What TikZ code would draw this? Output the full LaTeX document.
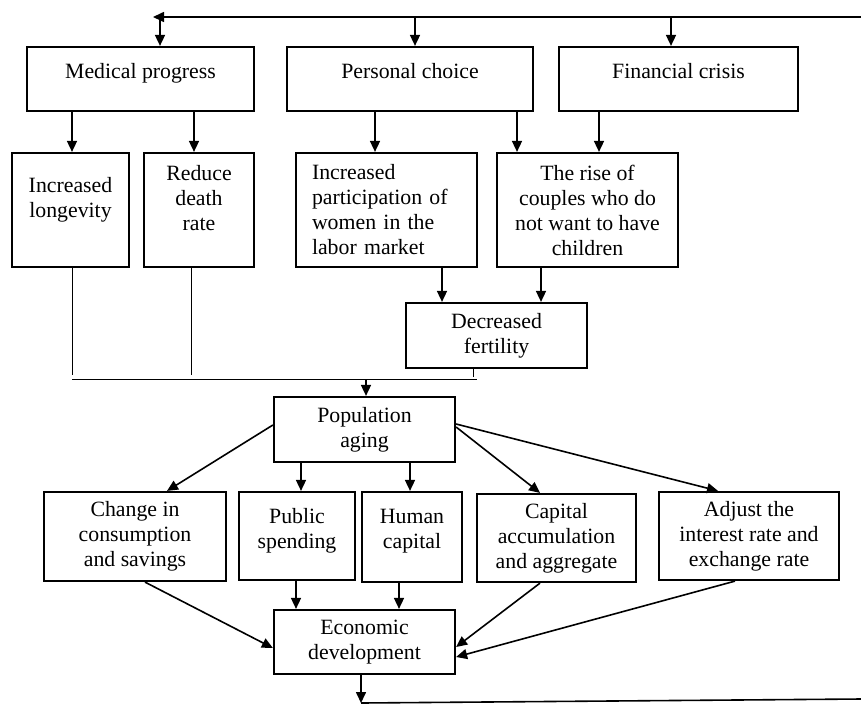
\documentclass[tikz,border=0pt]{standalone}
\usepackage{fontspec}
\setmainfont{Liberation Serif}
\usetikzlibrary{arrows.meta,positioning}

\tikzset{
	factor/.style={draw, line width=1.1pt, inner sep=2pt, align=center,
		font=\fontsize{10.9}{12.5}\selectfont},
	cause/.style={factor, minimum height=32pt, text height=8pt, text depth=9pt},
	raised/.style 2 args={text width=#1, text height=8pt, text depth=#2},
	arrowline/.style={line width=0.8pt},
	thinline/.style={line width=0.5pt}
}

\begin{document}
\begin{tikzpicture}[x=0.5pt, y=-0.5pt, >={Triangle[length=5.5pt,width=5pt]}]
	\useasboundingbox (0,0) rectangle (861,707);
	
	% Causes
	\node[cause, minimum width=113.5pt] (med) at (140.5,79) {Medical progress};
	\node[cause, minimum width=123pt] (pers) at (410,79) {Personal choice};
	\node[cause, minimum width=119.5pt] (fin) at (678.5,79) {Financial crisis};
	
	% Direct effects
	\node[factor, minimum width=58.5pt, minimum height=57pt, raised={50pt}{26pt}] (lon) at (70.5,210) {Increased\\longevity};
	\node[factor, minimum width=55pt, minimum height=57pt, raised={46pt}{38pt}] (death) at (199,210) {Reduce\\death\\rate};
	\node[factor, minimum width=90.5pt, minimum height=57pt, align=left, text width=74.5pt, inner xsep=8pt] (part) at (386.5,210) {Increased\\participation of\\women in the\\labor market};
	\node[factor, minimum width=90.5pt, minimum height=57pt] (rise) at (587.5,210) {The rise of\\couples who do\\not want to have\\children};
	\node[factor, minimum width=90.5pt, minimum height=32.5pt] (fert) at (496.5,335.5) {Decreased\\fertility};
	\node[factor, minimum width=90.5pt, minimum height=32.5pt] (aging) at (364.5,429.5) {Population\\aging};
	
	% Consequences
	\node[factor, minimum width=91pt, minimum height=44.5pt] (cons) at (135,536.5) {Change in\\consumption\\and savings};
	\node[factor, minimum width=58pt, minimum height=44pt, raised={50pt}{21pt}] (pub) at (297,536) {Public\\spending};
	\node[factor, minimum width=50pt, minimum height=45pt, raised={44pt}{22pt}] (hum) at (412,537) {Human\\capital};
	\node[factor, minimum width=79.5pt, minimum height=44pt] (cap) at (556.5,538) {Capital\\accumulation\\and aggregate};
	\node[factor, minimum width=90pt, minimum height=44pt] (adj) at (749,536) {Adjust the\\interest rate and\\exchange rate};
	\node[factor, minimum width=90.5pt, minimum height=32pt] (econ) at (364.5,642) {Economic\\development};
	
	% Feedback loop
	\coordinate (topL) at (153,17);
	\coordinate (topR) at (861,17);
	\coordinate (botL) at (361,703);
	\coordinate (botR) at (861,699);
	\draw[arrowline,->] (topR) -- (topL);
	\foreach \n/\dx in {med/9.75pt, pers/2.5pt, fin/-3.75pt}
		\draw[arrowline,->] ([xshift=\dx]\n.north |- topL) -- ([xshift=\dx]\n.north);
	\draw[arrowline,->] (botL |- econ.south) -- (botL);
	\draw[arrowline] (botL) -- (botR);
	
	% Causes to effects
	\foreach \a/\b/\dx in {med/lon/0.75pt, med/death/-2.5pt, pers/part/-5.75pt, pers/rise/-35.25pt, fin/rise/5.75pt, part/fert/-27.25pt, rise/fert/22.25pt}
		\draw[arrowline,->] ([xshift=\dx]\b.north |- \a.south) -- ([xshift=\dx]\b.north);
	
	% Merge into population aging
	\coordinate (mergeL) at (72,379);
	\coordinate (mergeR) at (477,379);
	\draw[thinline] ([xshift=0.75pt]lon.south) -- ([xshift=0.75pt,yshift=2pt]lon.south |- mergeL);
	\draw[thinline] ([xshift=-4pt]death.south) -- ([xshift=-4pt,yshift=2pt]death.south |- mergeL);
	\draw[thinline] ([xshift=-11.75pt]fert.south) -- ([xshift=-11.75pt,yshift=1pt]fert.south |- mergeL);
	\draw[thinline] (mergeL) -- (mergeR);
	\draw[arrowline,->] ([xshift=0.75pt]aging.north |- mergeL) -- ([xshift=0.75pt]aging.north);
	
	% Population aging to consequences
	\draw[arrowline,->] ([yshift=2.25pt]aging.west) -- ([xshift=16pt]cons.north);
	\draw[arrowline,->] ([xshift=2pt]pub.north |- aging.south) -- ([xshift=2pt]pub.north);
	\draw[arrowline,->] ([xshift=-1pt]hum.north |- aging.south) -- ([xshift=-1pt]hum.north);
	\draw[arrowline,->] ([yshift=1.25pt]aging.east) -- ([xshift=-8.25pt]cap.north);
	\draw[arrowline,->] ([yshift=2.75pt]aging.east) -- ([xshift=-15.5pt]adj.north);
	
	% Consequences to economic development
	\draw[arrowline,->] ([xshift=5pt]cons.south) -- ([yshift=-3pt]econ.west);
	\draw[arrowline,->] ([xshift=-0.5pt]pub.south) -- ([xshift=-0.5pt]pub.south |- econ.north);
	\draw[arrowline,->] ([xshift=-6.5pt]hum.south) -- ([xshift=-6.5pt]hum.south |- econ.north);
	\draw[arrowline,->] ([xshift=-8.25pt]cap.south) -- ([yshift=-2.5pt]econ.east);
	\draw[arrowline,->] ([xshift=-7pt]adj.south) -- ([yshift=-7.5pt]econ.east);
\end{tikzpicture}
\end{document}
